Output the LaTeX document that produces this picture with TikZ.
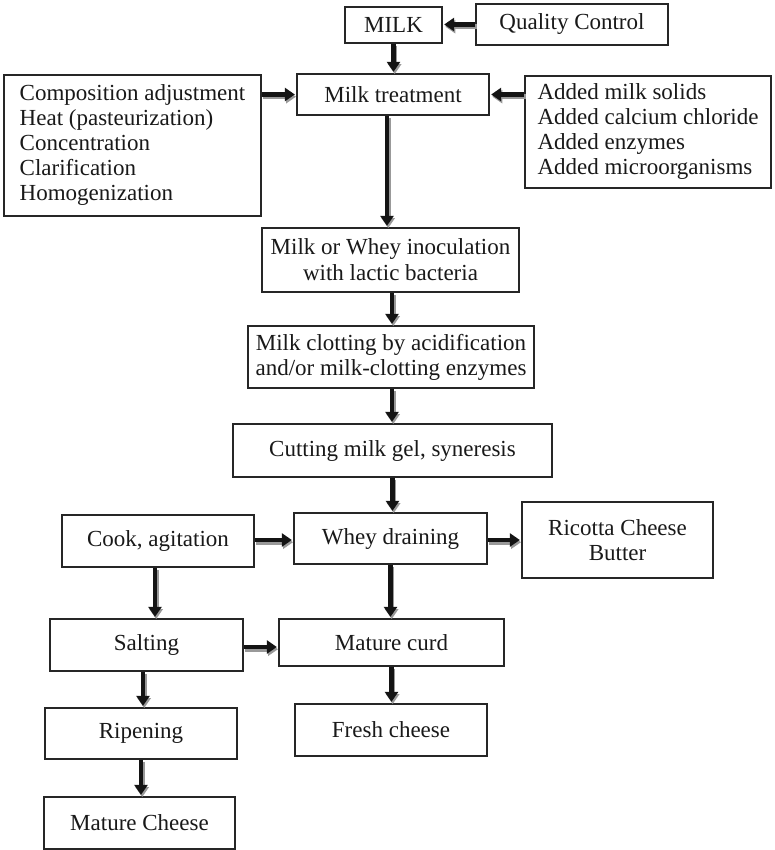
\documentclass[tikz,border=0pt]{standalone}
\usepackage{fontspec}
\setmainfont{Liberation Serif}
\usetikzlibrary{arrows.meta}

\tikzset{
  box/.style={draw=black!85, line width=1.3pt, fill=white, inner sep=0pt,
              align=center, text=black!90,
              font=\fontsize{23}{25}\selectfont},
  listbox/.style={box, align=left},
  arr/.style={draw=black!92, line width=4.6pt,
              -{Triangle[length=10pt,width=13pt]}, shorten >=1.5pt},
  arrshadow/.style={arr, draw=black!40,
              transform canvas={shift={(1.2pt,-2.2pt)}}},
}
% arrow with a soft grey drop shadow
\newcommand\flowarrow[2]{%
  \draw[arrshadow] #1 -- #2;
  \draw[arr] #1 -- #2;}

\begin{document}
\begin{tikzpicture}[x=1pt,y=-1pt]
\useasboundingbox (0,0) rectangle (774,850);

% ---------- boxes ----------
\node[box, minimum width=97pt,  minimum height=36pt]  (milk)  at (393.5,25)  {MILK};
\node[box, minimum width=192pt, minimum height=41pt]  (qc)    at (572,24.5)  {Quality Control};
\node[box, minimum width=192pt, minimum height=41pt]  (treat) at (393,94.5)  {Milk treatment};
\node[listbox, minimum width=257pt, minimum height=141pt] (comp) at (132.5,145.5)
  {Composition adjustment\\Heat (pasteurization)\\Concentration\\Clarification\\Homogenization};
\node[listbox, minimum width=246pt, minimum height=112pt] (added) at (648,132)
  {Added milk solids\\Added calcium chloride\\Added enzymes\\Added microorganisms};
\node[box, minimum width=257pt, minimum height=64pt, font=\fontsize{23}{26}\selectfont] (inoc) at (390.5,260)
  {Milk or Whey inoculation\\with lactic bacteria};
\node[box, minimum width=286pt, minimum height=62pt]  (clot)  at (391,357)
  {Milk clotting by acidification\\and/or milk-clotting enzymes};
\node[box, minimum width=319pt, minimum height=53pt]  (cut)   at (392.5,450.5) {Cutting milk gel, syneresis};
\node[box, minimum width=193pt, minimum height=51pt]  (whey)  at (390.5,538.5) {Whey draining};
\node[box, minimum width=191pt, minimum height=76pt]  (ric)   at (617.5,540) {Ricotta Cheese\\Butter};
\node[box, minimum width=192pt, minimum height=52pt]  (cook)  at (158,541)   {Cook, agitation};
\node[box, minimum width=193pt, minimum height=52pt]  (salt)  at (146.5,645) {Salting};
\node[box, minimum width=225pt, minimum height=47pt]  (curd)  at (391.5,642.5) {Mature curd};
\node[box, minimum width=192pt, minimum height=51pt]  (ripe)  at (141,733.5) {Ripening};
\node[box, minimum width=192pt, minimum height=52pt]  (fresh) at (391,730)   {Fresh cheese};
\node[box, minimum width=191pt, minimum height=52pt]  (mch)   at (139.5,823) {Mature Cheese};

% ---------- arrow start points that sit off the box centres ----------
\coordinate (cookout)  at ([yshift=1pt]cook.east);
\coordinate (wheyout)  at ([yshift=-1.5pt]whey.east);
\coordinate (saltout)  at ([yshift=-2pt]salt.east);
\coordinate (treatout) at ([xshift=-6pt]treat.south);
\coordinate (inocout)  at ([xshift=1.5pt]inoc.south);
\coordinate (clotout)  at ([xshift=1pt]clot.south);
\coordinate (cookdown) at ([xshift=-3pt]cook.south);
\coordinate (saltdown) at ([xshift=-3.5pt]salt.south);

% ---------- horizontal arrows ----------
\flowarrow{(qc.west)}{(milk.east |- qc.west)}
\flowarrow{(comp.east |- treat.west)}{(treat.west)}
\flowarrow{(added.west |- treat.east)}{(treat.east)}
\flowarrow{(cookout)}{(whey.west |- cookout)}
\flowarrow{(wheyout)}{(ric.west |- wheyout)}
\flowarrow{(saltout)}{(curd.west |- saltout)}

% ---------- vertical arrows ----------
\flowarrow{(milk.south)}{(treat.north -| milk.south)}
\flowarrow{(treatout)}{(inoc.north -| treatout)}
\flowarrow{(inocout)}{(clot.north -| inocout)}
\flowarrow{(clotout)}{(cut.north -| clotout)}
\flowarrow{(cut.south)}{(whey.north -| cut.south)}
\flowarrow{(whey.south)}{(curd.north -| whey.south)}
\flowarrow{(curd.south)}{(fresh.north -| curd.south)}
\flowarrow{(cookdown)}{(salt.north -| cookdown)}
\flowarrow{(saltdown)}{(ripe.north -| saltdown)}
\flowarrow{(ripe.south)}{(mch.north -| ripe.south)}
\end{tikzpicture}
\end{document}
